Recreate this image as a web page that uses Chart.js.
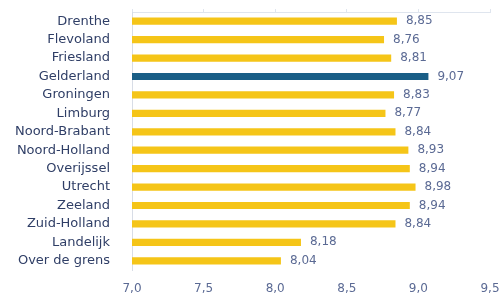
<!DOCTYPE html>
<html>
<head>
<meta charset="utf-8">
<script src="https://cdn.jsdelivr.net/npm/chart.js@4.4.0/dist/chart.umd.min.js"></script>
<style>
  html, body { margin: 0; padding: 0; background: #ffffff; overflow: hidden; }
  #wrap { width: 504px; height: 298px; position: relative; }
</style>
</head>
<body>
<div id="wrap"><canvas id="Tevredenheid"></canvas></div>
<script>
//
// Data
var provincies = ['Drenthe', 'Flevoland', 'Friesland', 'Gelderland', 'Groningen', 'Limburg',
  'Noord-Brabant', 'Noord-Holland', 'Overijssel', 'Utrecht', 'Zeeland', 'Zuid-Holland',
  'Landelijk', 'Over de grens'];
var scores = [8.85, 8.76, 8.81, 9.07, 8.83, 8.77, 8.84, 8.93, 8.94, 8.98, 8.94, 8.84, 8.18, 8.04];
var highlight = 'Gelderland';
var x_ticks = [7.0, 7.5, 8.0, 8.5, 9.0, 9.5];

var yellow = '#f5c518';
var blue = '#1a5e86';

function komma(v, d){
  return v.toFixed(d).replace('.', ',');
}

//
// Value labels after each bar
var valueLabels = {
  id: 'valueLabels',
  afterDatasetsDraw: function(chart){
    var ctx = chart.ctx;
    var meta = chart.getDatasetMeta(0);
    ctx.save();
    ctx.font = '12px "DejaVu Sans"';
    ctx.fillStyle = '#5b6a94';
    ctx.textBaseline = 'middle';
    ctx.textAlign = 'left';
    meta.data.forEach(function(bar, i){
      ctx.fillText(komma(scores[i], 2), bar.x + 9, bar.y);
    });
    ctx.restore();
  }
};

var ctx = document.getElementById('Tevredenheid').getContext('2d');
new Chart(ctx, {
  type: 'bar',
  data: {
    labels: provincies,
    datasets: [{
      data: scores,
      backgroundColor: provincies.map(function(p){ return p === highlight ? blue : yellow; }),
      borderWidth: 0,
      barPercentage: 0.78,
      categoryPercentage: 0.5
    }]
  },
  plugins: [valueLabels],
  options: {
    indexAxis: 'y',
    responsive: true,
    maintainAspectRatio: false,
    animation: false,
    layout: { padding: { left: 0, right: 14, top: 0, bottom: 0 } },
    plugins: {
      legend: { display: false },
      tooltip: { enabled: false }
    },
    scales: {
      x: {
        position: 'bottom',
        min: 7.0,
        max: 9.5,
        afterBuildTicks: function(axis){
          axis.ticks = x_ticks.map(function(v){ return { value: v }; });
        },
        afterFit: function(axis){ axis.height = 28; axis.paddingLeft = 0; axis.paddingRight = 0; },
        grid: { display: false },
        border: { display: false },
        ticks: {
          color: '#5b6a94',
          font: { family: 'DejaVu Sans', size: 12 },
          padding: 4,
          maxRotation: 0,
          autoSkip: false,
          callback: function(v){ return komma(v, 1); }
        }
      },
      x2: {
        position: 'top',
        min: 7.0,
        max: 9.5,
        afterBuildTicks: function(axis){
          axis.ticks = x_ticks.map(function(v){ return { value: v }; });
        },
        afterFit: function(axis){ axis.height = 12; },
        grid: { drawOnChartArea: false, drawTicks: true, tickLength: 3, color: '#dfe5ee' },
        border: { display: true, color: '#dfe5ee' },
        ticks: { display: false }
      },
      y: {
        afterFit: function(axis){ axis.width = 132; axis.paddingTop = 0; axis.paddingBottom = 0; },
        grid: { display: false },
        border: { display: true, color: '#d8dde6' },
        ticks: {
          color: '#2f3e66',
          font: { family: 'DejaVu Sans', size: 13 },
          padding: 14,
          autoSkip: false
        }
      }
    }
  }
});
</script>
</body>
</html>
